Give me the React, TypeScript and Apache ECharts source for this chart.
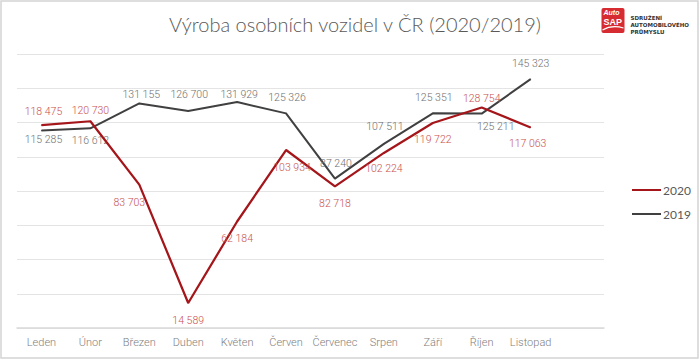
import React, { useEffect, useRef } from "react";
import * as echarts from "echarts";

const categories = ["Leden", "Únor", "Březen", "Duben", "Květen", "Červen", "Červenec", "Srpen", "Září", "Říjen", "Listopad", ""];
const values2020 = [118475, 120730, 83703, 14589, 62184, 103934, 82718, 102224, 119722, 128754, 117063, null];
const values2019 = [115285, 116612, 131155, 126700, 131929, 125326, 87240, 107511, 125351, 125211, 145323, null];
const yTicks = { min: 0, max: 160000, interval: 20000 };

// label centre offsets from each point (style only)
const labelOffsets2020 = [[2, -14], [0, -11], [-10, 18], [0, 17], [0, 17], [6, 17], [0, 17], [0, 16], [0, 17], [0, -9], [-3, 16], [0, 0]];
const labelOffsets2019 = [[2, 9], [0, 12], [2, -9], [1, -17], [2, -8], [1, -16], [1, -15], [1, -17], [1, -16], [14, 13], [0, -16], [0, 0]];

const fmt = (v: number) => {
  const s = String(v);
  return s.replace(/\B(?=(\d{3})+(?!\d))/g, " ");
};

const RED = "#a5161b";
const GRAY = "#404040";
const RED_LABEL = "#c8514f";
const GRAY_LABEL = "#707070";

function buildData(values: (number | null)[], offsets: number[][], color: string) {
  return values.map((v, i) => ({
    value: v,
    label: {
      show: v != null,
      position: "inside",
      offset: offsets[i],
      formatter: (p: any) => fmt(p.value),
      color,
      fontFamily: "Roboto",
      fontWeight: 300,
      fontSize: 10.5,
    },
  }));
}

export default function App() {
  const ref = useRef<HTMLDivElement>(null);
  useEffect(() => {
    if (!ref.current) return;
    const chart = echarts.init(ref.current, null, { renderer: "svg" });
    chart.setOption({
      animation: false,
      backgroundColor: "#ffffff",
      title: {
        text: "Výroba osobních vozidel v ČR (2020/2019)",
        left: 350,
        textAlign: "center",
        top: 9,
        textStyle: {
          fontFamily: "Lato",
          fontWeight: 300,
          fontSize: 20,
          color: "#595959",
        },
      },
      legend: {
        orient: "vertical",
        left: 627,
        top: 179,
        itemGap: 12,
        itemWidth: 29,
        itemHeight: 2,
        icon: "rect",
        data: ["2020", "2019"],
        textStyle: { fontFamily: "Lato", fontSize: 12, color: "#595959", padding: [0, 0, 0, -3] },
      },
      grid: { left: 17, right: 96, top: 54, bottom: 32, containLabel: false },
      xAxis: {
        type: "category",
        data: categories,
        boundaryGap: true,
        axisTick: { show: false },
        axisLine: { lineStyle: { color: "#d9d9d9", width: 1.5 } },
        axisLabel: { color: "#808080", fontFamily: "Roboto", fontWeight: 300, fontSize: 11, margin: 9, interval: 0 },
      },
      yAxis: {
        type: "value",
        min: yTicks.min,
        max: yTicks.max,
        interval: yTicks.interval,
        axisLabel: { show: false },
        axisLine: { show: false },
        axisTick: { show: false },
        splitLine: { lineStyle: { color: "#e4e4e4", width: 1 } },
      },
      series: [
        {
          name: "2020",
          type: "line",
          data: buildData(values2020, labelOffsets2020, RED_LABEL),
          symbol: "circle",
          symbolSize: 1,
          showSymbol: true,
          color: RED,
          lineStyle: { color: RED, width: 2.25 },
          itemStyle: { color: RED },
          z: 3,
          silent: true,
        },
        {
          name: "2019",
          type: "line",
          data: buildData(values2019, labelOffsets2019, GRAY_LABEL),
          symbol: "circle",
          symbolSize: 1,
          showSymbol: true,
          color: GRAY,
          lineStyle: { color: GRAY, width: 2 },
          itemStyle: { color: GRAY },
          z: 2,
          silent: true,
        },
      ],
      graphic: [
        {
          type: "rect",
          shape: { x: 1, y: 1, width: 697, height: 357 },
          style: { fill: "none", stroke: "#d4d4d4", lineWidth: 1.5 },
          silent: true,
        },
        {
          type: "group",
          left: 600,
          top: 8,
          children: [
            {
              type: "rect",
              shape: { x: 0, y: 0, width: 23, height: 25, r: 2 },
              style: { fill: "#d52b31" },
            },
            {
              type: "text",
              x: 2,
              y: 1,
              style: { text: "Auto", fill: "#ffffff", font: "italic bold 7px Liberation Sans" },
            },
            {
              type: "text",
              x: 2,
              y: 9,
              style: { text: "SAP", fill: "#ffffff", font: "bold 9px Liberation Sans" },
            },
            {
              type: "bezierCurve",
              shape: { x1: 1, y1: 22, x2: 22, y2: 20, cpx1: 8, cpy1: 18, cpx2: 15, cpy2: 18 },
              style: { stroke: "#ffffff", lineWidth: 1.2, fill: "none" },
            },
            {
              type: "text",
              x: 29,
              y: 7,
              style: { text: "SDRUŽENÍ", fill: "#333333", font: "bold 5.5px DejaVu Sans" },
            },
            {
              type: "text",
              x: 29,
              y: 14,
              style: { text: "AUTOMOBILOVÉHO", fill: "#333333", font: "bold 5.5px DejaVu Sans" },
            },
            {
              type: "text",
              x: 29,
              y: 21,
              style: { text: "PRŮMYSLU", fill: "#333333", font: "bold 5.5px DejaVu Sans" },
            },
          ],
        },
      ],
    });
    return () => chart.dispose();
  }, []);
  return <div ref={ref} style={{ position: "fixed", left: 0, top: 0, width: 700, height: 360 }} />;
}
